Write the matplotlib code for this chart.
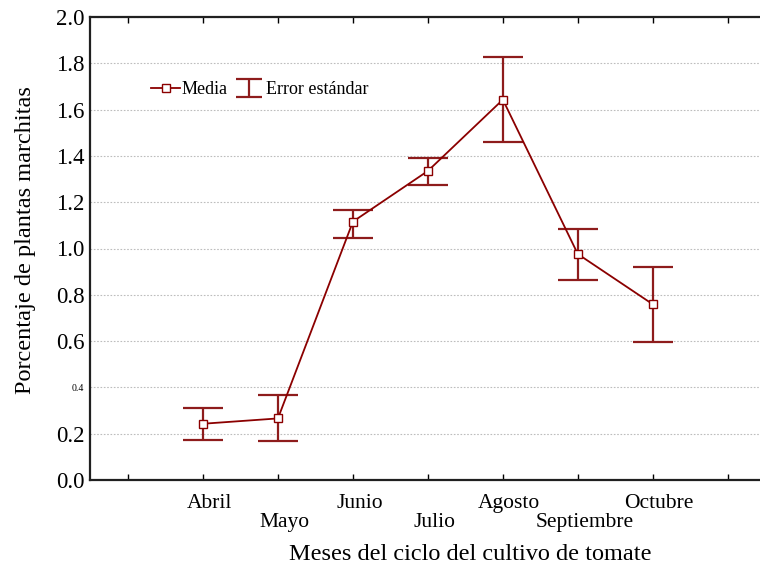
import numpy as np
import matplotlib
matplotlib.use("Agg")
import matplotlib.pyplot as plt
import matplotlib.transforms as mtransforms
from matplotlib.lines import Line2D

plt.rcParams['font.family'] = ['Liberation Serif', 'DejaVu Serif']

meses = ["Abril", "Mayo", "Junio", "Julio", "Agosto", "Septiembre", "Octubre"]
media = [0.243, 0.266, 1.116, 1.335, 1.643, 0.976, 0.759]
limite_inf = [0.174, 0.167, 1.045, 1.273, 1.460, 0.866, 0.595]
limite_sup = [0.311, 0.366, 1.166, 1.391, 1.827, 1.086, 0.920]
yticks = [0.0, 0.2, 0.4, 0.6, 0.8, 1.0, 1.2, 1.4, 1.6, 1.8, 2.0]

rojo = "#8b0000"
rojo_err = "#8e1c1c"

fig = plt.figure(figsize=(7.6, 5.65), dpi=100)
ax = fig.add_axes([90 / 760, 85 / 565, 670 / 760, 463 / 565])

x = np.arange(1, len(meses) + 1)
media = np.array(media)
err = [media - np.array(limite_inf), np.array(limite_sup) - media]

ax.errorbar(x, media, yerr=err, fmt='none', ecolor=rojo_err,
            elinewidth=1.6, capsize=14.5, capthick=1.6, zorder=3)
ax.plot(x, media, color=rojo, lw=1.3, marker='s', markersize=5.5,
        markerfacecolor='white', markeredgecolor=rojo, markeredgewidth=1.0,
        zorder=4)

ax.set_xlim(-0.507, 8.43)
ax.set_ylim(0, 2.0)

# x ticks: etiquetas alternadas arriba/abajo
ax.set_xticks(np.arange(0, 9))
ax.set_xticklabels([""] + meses + [""], fontsize=15.5)
ax.tick_params(axis='x', direction='in', length=4, width=1, top=True,
               bottom=True, pad=10)
arriba = mtransforms.ScaledTranslation(0.065, 0, fig.dpi_scale_trans)
abajo = mtransforms.ScaledTranslation(0.065, -0.195, fig.dpi_scale_trans)
for i, lab in enumerate(ax.get_xticklabels()):
    lab.set_transform(lab.get_transform() + (abajo if i % 2 == 0 else arriba))

ax.set_yticks(yticks)
ax.set_yticklabels([f"{v:.1f}" for v in yticks], fontsize=16.5)
ax.tick_params(axis='y', length=0, pad=4)
for lab in ax.get_yticklabels():
    if lab.get_text() == "0.4":
        lab.set_fontsize(7)

ax.yaxis.grid(True, linestyle=(0, (1.5, 1.5)), color='#bdbdbd', lw=0.8)
ax.set_axisbelow(True)

ax.spines['right'].set_visible(False)
for s in ['left', 'bottom', 'top']:
    ax.spines[s].set_linewidth(1.6)
    ax.spines[s].set_color('#202020')

ax.set_ylabel("Porcentaje de plantas marchitas", fontsize=17.5, labelpad=14,
              y=0.518)
ax.set_xlabel("Meses del ciclo del cultivo de tomate", fontsize=17.5,
              labelpad=8, x=0.568)

# manejadores de la leyenda (el de error usa un punto NaN: no se ve)
h_media = Line2D([], [], color=rojo, lw=1.3, marker='s', markersize=5.5,
                 markerfacecolor='white', markeredgecolor=rojo,
                 markeredgewidth=1.0)
h_err = ax.errorbar([np.nan], [np.nan], yerr=[[0.1], [0.1]], fmt='none',
                    ecolor=rojo_err, elinewidth=1.6, capsize=9.5,
                    capthick=1.6)
ax.legend([h_media, h_err], ["Media", "Error estándar"], loc='upper left',
          bbox_to_anchor=(0.075, 0.885), ncol=2, frameon=False, fontsize=13,
          handlelength=1.6, handletextpad=0.1, columnspacing=0.4,
          borderaxespad=0.2)

fig.savefig("out.png", dpi=100)
